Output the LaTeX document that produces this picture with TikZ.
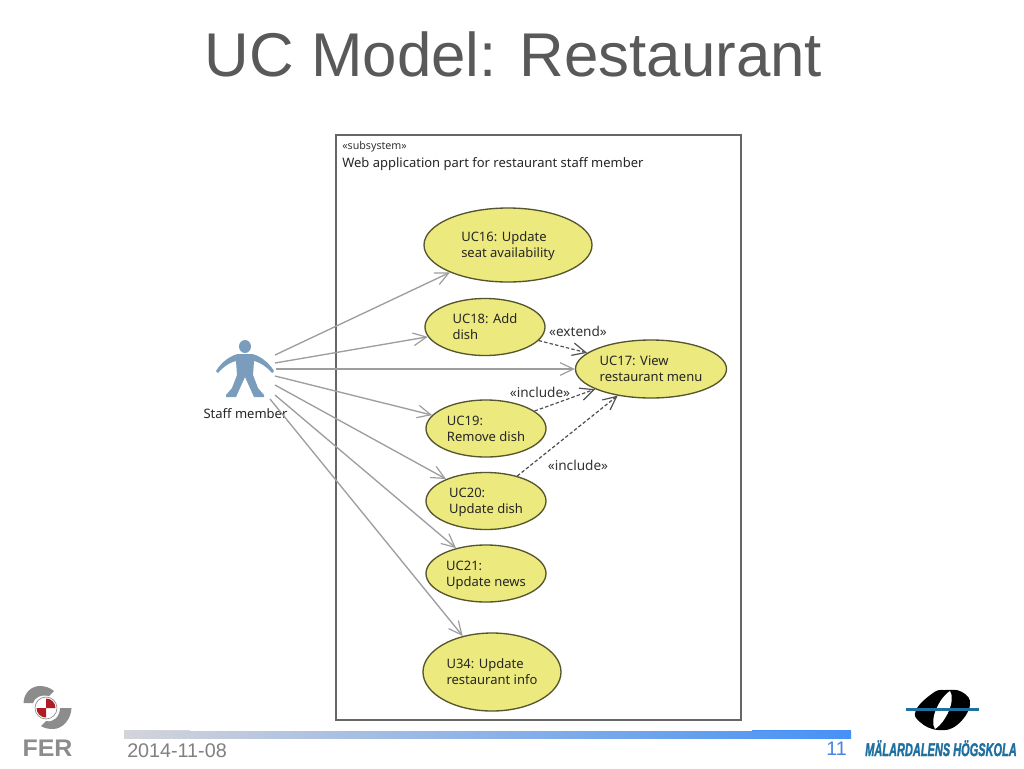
\documentclass[tikz,border=0pt]{standalone}
\usepackage{fontspec}
\usepackage{graphicx}
\setmainfont{Liberation Sans}
\newfontfamily\umlfont{Noto Sans}
\newfontfamily\mdhfont[BoldItalicFeatures={FakeBold=2}]{Liberation Sans}
\usetikzlibrary{shapes.geometric,arrows.meta}
\definecolor{ucfill}{HTML}{ECE97E}
\definecolor{ucline}{HTML}{55552F}
\definecolor{actorblue}{HTML}{7A9CBD}
\definecolor{titlegray}{HTML}{595959}
\definecolor{mdhblue}{HTML}{1F6FA0}
\definecolor{fergray}{HTML}{8C8C8C}
\definecolor{barleft}{RGB}{212,212,218}
\definecolor{barright}{RGB}{70,145,245}
\definecolor{pageblue}{RGB}{70,130,225}
\definecolor{ferred}{HTML}{B01C24}
\newcommand\uctext[1]{\raisebox{-1.1pt}[\height][\depth]{\begin{tabular}{@{}l@{}}#1\end{tabular}}}
\tikzset{
  ucase/.style 2 args={ellipse,draw=ucline,fill=ucfill,line width=1pt,inner sep=0pt,
    minimum width=#1*0.75pt,minimum height=#2*0.75pt,font=\umlfont\fontsize{9.75pt}{12pt}\selectfont,text=black!85},
  assoc/.style={draw=black!38,line width=1pt,-{Straight Barb[length=10pt,width=9.5pt,line width=0.9pt]}},
  depend/.style={draw=black!68,line width=0.9pt,dash pattern=on 2.6pt off 1.6pt,-{Straight Barb[length=10pt,width=9.5pt,line width=0.9pt]}},
  umltext/.style={font=\umlfont\fontsize{9.75pt}{12pt}\selectfont,text=black!85,inner sep=0pt},
  sterotext/.style={font=\umlfont\fontsize{10.2pt}{12pt}\selectfont,text=black!80,inner sep=0pt},
}
\begin{document}
\begin{tikzpicture}[x=0.75pt,y=-0.75pt]
\useasboundingbox (0,0) rectangle (1024,768);
\fill[white] (0,0) rectangle (1024,768);

% title
\node[anchor=base,font=\fontsize{46.35pt}{50pt}\selectfont,text=titlegray,inner sep=0pt] (title) at (513.5,76) {UC Model: Restaurant};

% subsystem
\node[draw=black!60,line width=1pt,fill=white,minimum width=303.75pt,minimum height=438.75pt,inner sep=0pt] (subsys) at (538.5,427.5) {};
\node[anchor=west,font=\umlfont\fontsize{8pt}{8pt}\selectfont,text=black!80,inner sep=0pt] (stereo) at (342,146.5) {«subsystem»};
\node[anchor=west,umltext] (subname) at (342,164.5) {Web application part for restaurant staff member};

% use cases
\node[ucase={168}{74}] (uc16) at (508,245) {\uctext{UC16: Update\\seat availability}};
\node[ucase={120}{57}] (uc18) at (485,327) {\uctext{UC18: Add\\dish}};
\node[ucase={151}{58}] (uc17) at (651,369) {\uctext{UC17: View\\restaurant menu}};
\node[ucase={120}{57}] (uc19) at (486,428.5) {\uctext{UC19:\\Remove dish}};
\node[ucase={120}{57}] (uc20) at (486,501) {\uctext{UC20:\\Update dish}};
\node[ucase={120}{57}] (uc21) at (486,573.5) {\uctext{UC21:\\Update news}};
\node[ucase={138}{78}] (uc34) at (492,672) {\uctext{U34: Update\\restaurant info}};

% actor
\fill[actorblue] (245,346.5) ellipse (6 and 6.5);
\fill[actorblue,line join=round] (238,354) -- (252,354)
  .. controls (258,355) and (268,361) .. (274,371) -- (272,373)
  .. controls (266,366) and (259,362) .. (254,361)
  -- (253,375) -- (258,388) -- (264,395) -- (264,397) -- (254,397) -- (245,377) -- (236,397) -- (226,397) -- (226,395) -- (232,388) -- (237,375) -- (236,361)
  .. controls (231,362) and (224,366) .. (218,373) -- (216,371)
  .. controls (222,361) and (232,355) .. (238,354) -- cycle;
\node[umltext] (actor) at (245.5,413.5) {Staff member};

\coordinate (a1) at (275,355);
\coordinate (a2) at (275,363);
\coordinate (a3) at (276,369);
\coordinate (a4) at (275,376);
\coordinate (a5) at (275,385);
\coordinate (a6) at (275,395);
\coordinate (a7) at (270,399);

\draw[assoc] (a1) -- (uc16);
\draw[assoc] (a2) -- (uc18);
\draw[assoc] (a3) -- (uc17);
\draw[assoc] (a4) -- (uc19);
\draw[assoc] (a5) -- (uc20);
\draw[assoc] (a6) -- (uc21);
\draw[assoc] (a7) -- (uc34);

\draw[depend] (uc18) -- (uc17);
\draw[depend] (uc19) -- (uc17);
\draw[depend] (uc20) -- (uc17);
\node[sterotext] (ext) at (578,331) {«extend»};
\node[sterotext] (inc1) at (540,392) {«include»};
\node[sterotext] (inc2) at (578,465) {«include»};

% footer
\shade[left color=barleft,right color=barright] (124,731) rectangle (851,738.5);
\fill[barleft] (124,730) rectangle (190,731);
\fill[barright] (752,730) rectangle (851,731);
\node[anchor=base west,font=\fontsize{14.8pt}{16pt}\selectfont,text=black!50,inner sep=0pt] (date) at (127,757) {2014-11-08};
\node[anchor=base east,font=\fontsize{14.7pt}{16pt}\selectfont,text=pageblue,inner sep=0pt] (page) at (847,755) {11};

% FER logo
\fill[fergray] (23.5,703) .. controls (24,692) and (32,686) .. (40,686) .. controls (46,686) and (50,688) .. (54,691) -- (49,696) .. controls (41,694) and (34,698) .. (33,703) -- cycle;
\fill[fergray] (71.5,708) .. controls (71,719) and (63,729) .. (53,729) .. controls (48,729) and (44,728) .. (41,726) -- (46,721) .. controls (54,723) and (60,716) .. (60,708) -- cycle;
\draw[fergray,line width=0.5pt] (46,708) circle (11);
\fill[ferred] (46,708) -- (36.5,708) arc[start angle=180,end angle=90,radius=9.5] -- cycle;
\fill[ferred] (46,708) -- (55.5,708) arc[start angle=0,end angle=-90,radius=9.5] -- cycle;
\node[font=\bfseries\fontsize{18pt}{20pt}\selectfont,text=fergray,inner sep=0pt,anchor=base] (fer) at (47.5,756) {\scalebox{1.04}[1]{FER}};

% MDH logo
\fill[black] plot[smooth cycle,tension=0.75] coordinates {(933,693) (945,690) (962,692) (970,705) (957,725) (938,730) (920,722) (916,710)};
\fill[white] (950,691) .. controls (956,700) and (946,722) .. (935,729) .. controls (929,720) and (939,698) .. (950,691) -- cycle;
\fill[mdhblue] (906,708) rectangle (979,711);
\node[anchor=base,font=\mdhfont\bfseries\itshape\fontsize{12.5pt}{14pt}\selectfont,text=mdhblue,inner sep=0pt] (mdh) at (941,756) {\scalebox{0.66}[1.1]{MÄLARDALENS HÖGSKOLA}};
\end{tikzpicture}
\end{document}
